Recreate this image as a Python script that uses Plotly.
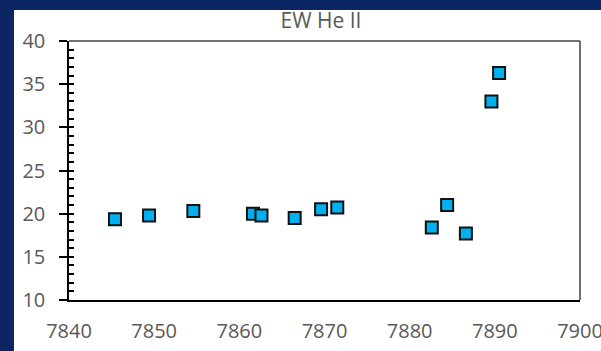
import plotly.graph_objects as go

# Data
wavelength = [7845.4, 7849.4, 7854.6, 7861.6, 7862.6, 7866.5, 7869.6, 7871.5,
              7882.6, 7884.4, 7886.6, 7889.6, 7890.5]
ew_he_ii = [19.35, 19.8, 20.3, 20.0, 19.8, 19.5, 20.5, 20.7,
            18.4, 21.0, 17.7, 33.0, 36.3]

title_text = "EW He II"
x_range = [7840, 7900]
y_range = [10, 40]

W, H = 601, 351
L, R, T, B = 69, 21, 41, 51
pw, ph = W - L - R, H - T - B

BLUE = "#0b2565"
GRAY_TXT = "#595959"
FONT = "Open Sans"

def px_x(p):
    return (p - L) / pw

def px_y(p):
    return (H - B - p) / ph

fig = go.Figure()
fig.add_trace(go.Scatter(
    x=wavelength, y=ew_he_ii, mode="markers",
    marker=dict(symbol="square", size=12, color="#00b0f0",
                line=dict(color="#111111", width=2)),
    showlegend=False, hoverinfo="x+y",
))
# helper invisible trace for the inner (minor) tick axis
fig.add_trace(go.Scatter(x=[x_range[0]], y=[y_range[0]], yaxis="y2",
                         mode="markers", marker=dict(opacity=0),
                         showlegend=False, hoverinfo="skip"))

fig.update_layout(
    width=W, height=H,
    margin=dict(l=L, r=R, t=T, b=B, pad=0, autoexpand=False),
    paper_bgcolor="white", plot_bgcolor="white",
    title=dict(text=title_text, x=321 / W, xanchor="center",
               y=1 - 21 / H, yanchor="middle", yref="container",
               automargin=False,
               font=dict(family=FONT, size=21, color=GRAY_TXT)),
    xaxis=dict(range=x_range, dtick=10, tick0=7840, showgrid=False,
               zeroline=False, showline=True, linecolor="black", linewidth=1.5,
               ticks="outside", ticklen=12, tickcolor="rgba(0,0,0,0)",
               automargin=False, ticklabeloverflow="allow",
               tickfont=dict(family=FONT, size=20, color=GRAY_TXT)),
    yaxis=dict(range=y_range, dtick=5, tick0=10, showgrid=False,
               zeroline=False, showline=True, linecolor="black", linewidth=1.5,
               ticks="outside", ticklen=8, tickwidth=1.5, tickcolor="black",
               ticklabelstandoff=10, automargin=False,
               tickfont=dict(family=FONT, size=20, color=GRAY_TXT)),
    yaxis2=dict(range=y_range, overlaying="y", side="left", dtick=1, tick0=10,
                showgrid=False, zeroline=False, showline=False,
                showticklabels=False, ticks="inside", ticklen=5,
                tickwidth=1.5, tickcolor="black", automargin=False),
    shapes=[
        # dark blue frame strips (left and top)
        dict(type="rect", xref="paper", yref="paper", layer="below",
             x0=px_x(-2), x1=px_x(14), y0=px_y(H + 2), y1=px_y(-2),
             fillcolor=BLUE, line=dict(width=0)),
        dict(type="rect", xref="paper", yref="paper", layer="below",
             x0=px_x(-2), x1=px_x(W + 2), y0=px_y(10), y1=px_y(-2),
             fillcolor=BLUE, line=dict(width=0)),
        # plot-area border (top and right)
        dict(type="line", xref="paper", yref="paper", x0=0, x1=1, y0=1, y1=1,
             line=dict(color="#404040", width=1.5)),
        dict(type="line", xref="paper", yref="paper", x0=1, x1=1, y0=0, y1=1,
             line=dict(color="#404040", width=1.5)),
    ],
)

fig.write_html(
    "out.html",
    config={"displayModeBar": False},
    post_script="document.body.style.margin='0';document.body.style.overflow='hidden';",
)
